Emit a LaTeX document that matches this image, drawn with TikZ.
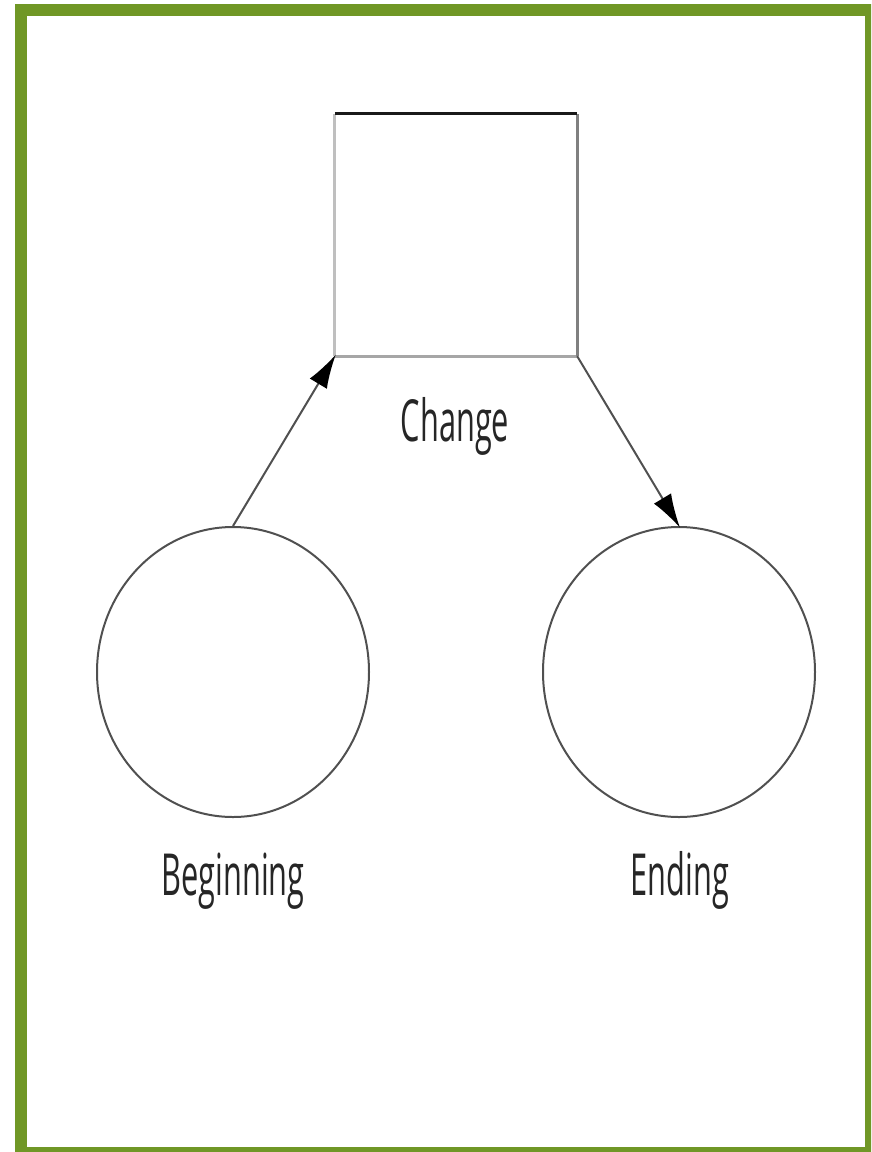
\documentclass[tikz,border=0pt]{standalone}
\usepackage{fontspec}
\setmainfont{Open Sans}
\usetikzlibrary{shapes.geometric,arrows.meta}
\definecolor{framegreen}{RGB}{112,151,38}
\definecolor{edgegray}{RGB}{80,80,80}
\tikzset{
  stage/.style={ellipse, draw=edgegray, line width=2pt, minimum width=272pt, minimum height=290pt, inner sep=0pt},
  caption/.style={anchor=base, inner sep=0pt, xscale=0.53, font=\fontsize{58}{60}\selectfont, text=black!85},
  flow/.style={draw=edgegray, line width=2pt, -{Latex[length=34pt,width=20pt,black]}, shorten >=-2pt},
}
\begin{document}
\begin{tikzpicture}[x=1pt,y=-1pt]
  \useasboundingbox (0,0) rectangle (871,1152);
  \begin{scope}
    \clip (0,0) rectangle (871,1152);
    % outer green frame
    \draw[framegreen, line width=12pt] (21,10) rectangle (871,1153);
  \end{scope}

  % the box in the middle
  \node[rectangle, minimum width=242pt, minimum height=242pt, inner sep=0pt] (change) at (456,235) {};
  \draw[black!25, line width=3pt] (change.north west) -- (change.south west);
  \draw[black!35, line width=3pt] (change.south west) -- (change.south east);
  \draw[black!50, line width=3pt] (change.south east) -- (change.north east);
  \draw[black!90, line width=3pt] (change.north west) -- (change.north east);
  \node[caption] (changelabel) at (455,441) {Change};

  % the two states
  \node[stage] (begin) at (233,672) {};
  \node[stage] (ending) at (679,672) {};
  \node[caption] (beginlabel) at (233,895) {Beginning};
  \node[caption] (endinglabel) at (680,895) {Ending};

  % transitions
  \draw[flow] (begin.north) -- (change.south west);
  \draw[flow] (change.south east) -- (ending.north);
\end{tikzpicture}
\end{document}
